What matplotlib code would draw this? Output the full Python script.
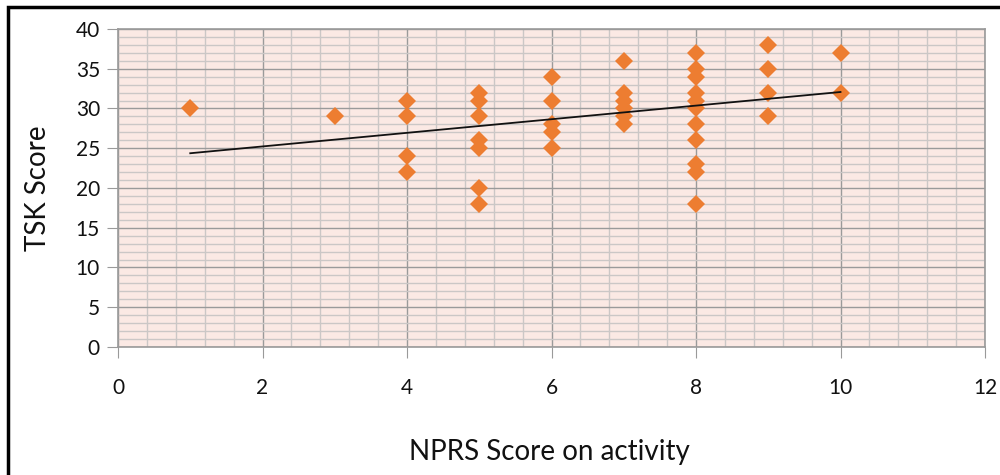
import matplotlib
matplotlib.use("Agg")
import matplotlib.pyplot as plt
from matplotlib.ticker import MultipleLocator
import numpy as np

# NPRS score on activity (x) vs TSK score (y), one list per NPRS value
nprs_values = [1, 3, 4, 5, 6, 7, 8, 9, 10]
tsk_by_nprs = [
    [30],
    [29],
    [31, 29, 24, 22],
    [32, 31, 29, 26, 25, 20, 18],
    [34, 31, 28, 27, 25],
    [36, 32, 31, 30, 29, 28],
    [37, 35, 34, 32, 31, 30, 28, 26, 23, 22, 18],
    [38, 35, 32, 29],
    [37, 32],
]
x_ticks = [0, 2, 4, 6, 8, 10, 12]
y_ticks = [0, 5, 10, 15, 20, 25, 30, 35, 40]

x = np.array([v for v, ys in zip(nprs_values, tsk_by_nprs) for _ in ys], dtype=float)
y = np.array([t for ys in tsk_by_nprs for t in ys], dtype=float)

plt.rcParams['font.family'] = ['Lato', 'DejaVu Sans']

fig = plt.figure(figsize=(10, 4.75), dpi=100)
ax = fig.add_axes([0.118, 0.2695, 0.867, 0.6695])
ax.set_facecolor("#fbe9e4")

ax.set_xlim(0, 12)
ax.set_ylim(0, 40)
ax.xaxis.set_minor_locator(MultipleLocator(0.4))
ax.yaxis.set_minor_locator(MultipleLocator(1))
ax.set_xticks(x_ticks)
ax.set_yticks(y_ticks)

ax.grid(True, which="minor", color="#cbc7c6", linewidth=1.0)
ax.grid(True, which="major", color="#9a9a9a", linewidth=1.0)
ax.set_axisbelow(True)

for s in ax.spines.values():
    s.set_color("#9a9a9a")
    s.set_linewidth(1.2)

ax.tick_params(axis="both", which="minor", length=0)
ax.tick_params(axis="both", which="major", length=8, color="#9a9a9a",
               labelsize=15, labelcolor="#111111")
ax.tick_params(axis="x", which="major", pad=14)
ax.tick_params(axis="y", which="major", pad=5)

ax.plot(x, y, linestyle="none", marker="D", markersize=9.5,
        color="#ed7d31", markeredgewidth=0, zorder=3)

# linear trendline over the data range
k, b = np.polyfit(x, y, 1)
xs = np.array([x.min(), x.max()])
ax.plot(xs, k * xs + b, color="#111111", linewidth=1.3, zorder=4)

fig.text(0.038, 0.604, "TSK Score", rotation=90, ha="center", va="center",
         fontsize=20, color="#111111")
fig.text(0.549, 0.048, "NPRS Score on activity", ha="center", va="center",
         fontsize=20, color="#111111")

# outer frame (top and left edges visible)
frame = plt.Rectangle((0.008, -0.1), 1.2, 1.085, transform=fig.transFigure,
                      fill=False, edgecolor="black", linewidth=2.5)
fig.patches.append(frame)

fig.savefig("out.png", dpi=100)
